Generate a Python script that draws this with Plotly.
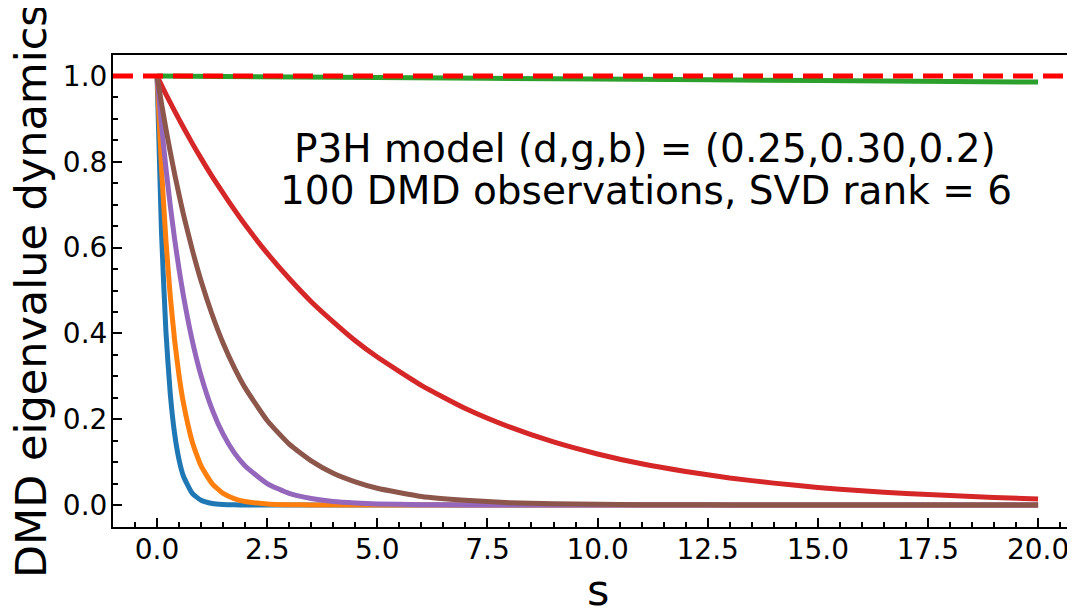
import plotly.graph_objects as go

# Sample times (s) and curve values
t = [0, 0.1, 0.2, 0.3, 0.4, 0.5, 0.6, 0.8, 1.0, 1.25, 1.5, 1.75, 2, 2.5, 3, 3.5, 4, 4.5,
     5, 6, 7, 8, 9, 10, 11, 12, 13, 14, 15, 16, 17, 18, 19, 20]

blue = [1, .638, .407, .259, .165, .105, .067, .027, .011, .0036, .0012, .0004, .0001, 0, 0, 0, 0, 0,
        0, 0, 0, 0, 0, 0, 0, 0, 0, 0, 0, 0, 0, 0, 0, 0]
orange = [1, .787, .619, .487, .383, .301, .237, .147, .091, .050, .027, .015, .008, .0025, .0007, .0002, .0001, 0,
          0, 0, 0, 0, 0, 0, 0, 0, 0, 0, 0, 0, 0, 0, 0, 0]
purple = [1, .887, .787, .698, .619, .549, .487, .383, .301, .223, .165, .122, .091, .050, .027, .015, .008, .0045,
          .0025, .0007, .0002, .0001, 0, 0, 0, 0, 0, 0, 0, 0, 0, 0, 0, 0]
brown = [1, .937, .878, .823, .771, .723, .677, .595, .522, .444, .377, .321, .273, .197, .142, .103, .074, .054,
         .039, .020, .011, .0055, .0029, .0015, .0008, .0004, .0002, .0001, 0, 0, 0, 0, 0, 0]
red = [1, .979, .958, .938, .918, .899, .880, .843, .808, .766, .727, .689, .653, .587, .528, .474, .427, .383,
       .345, .279, .225, .182, .147, .119, .096, .078, .063, .051, .041, .033, .027, .022, .0175, .014]

t_green = [0, 5, 10, 15, 20]
green = [1.0, 0.9965, 0.993, 0.9895, 0.986]

x_ticks = [0, 2.5, 5, 7.5, 10, 12.5, 15, 17.5, 20]
x_ticktext = ["0.0", "2.5", "5.0", "7.5", "10.0", "12.5", "15.0", "17.5", "20.0"]
y_ticks = [0, 0.2, 0.4, 0.6, 0.8, 1.0]
y_ticktext = ["0.0", "0.2", "0.4", "0.6", "0.8", "1.0"]

annot_lines = ["P3H model (d,g,b) = (0.25,0.30,0.2)", "100 DMD observations, SVD rank = 6"]
x_title = "s"
y_title = "DMD eigenvalue dynamics"
ref_level = 1.0

FONT = "DejaVu Sans"
TICKFONT = dict(family=FONT, size=28, color="black")
fig = go.Figure()

series = [
    (t, blue, "#1f77b4"),
    (t, orange, "#ff7f0e"),
    (t_green, green, "#2ca02c"),
    (t, red, "#d62728"),
    (t, purple, "#9467bd"),
    (t, brown, "#8c564b"),
]
for xs, ys, col in series:
    fig.add_trace(go.Scatter(x=xs, y=ys, mode="lines",
                             line=dict(color=col, width=5, shape="spline", smoothing=0.5),
                             showlegend=False, hoverinfo="skip"))

fig.add_shape(type="line", xref="paper", yref="y", x0=0, x1=1, y0=ref_level, y1=ref_level,
              line=dict(color="#ff0000", width=5, dash="20px,10px"), layer="above")

fig.add_annotation(x=11.08, y=0.832, text=annot_lines[0], showarrow=False,
                   xanchor="center", yanchor="middle", font=dict(family=FONT, size=39, color="black"))
fig.add_annotation(x=11.1, y=0.732, text=annot_lines[1], showarrow=False,
                   xanchor="center", yanchor="middle", font=dict(family=FONT, size=39, color="black"))

# axis titles placed as annotations
fig.add_annotation(xref="x", yref="paper", x=10, y=0, yshift=-63, text=x_title, showarrow=False,
                   xanchor="center", yanchor="middle", font=dict(family=FONT, size=43, color="black"))
fig.add_annotation(xref="paper", yref="paper", x=0, y=0.5, xshift=-82, text=y_title, showarrow=False,
                   textangle=-90, xanchor="center", yanchor="middle",
                   font=dict(family=FONT, size=43, color="black"))

fig.update_layout(
    width=1075, height=610,
    margin=dict(l=105, r=0, t=47, b=91),
    plot_bgcolor="white", paper_bgcolor="white",
    font=dict(family=FONT, color="black", size=28),
)
fig.update_xaxes(
    range=[-1.0, 21.02], showgrid=False, zeroline=False, automargin=False,
    showline=True, linecolor="black", linewidth=2, mirror=True,
    ticks="inside", ticklen=9, tickwidth=2, tickcolor="black",
    tickmode="array", tickvals=x_ticks, ticktext=x_ticktext, tickfont=TICKFONT,
    ticklabelstandoff=-4,
    minor=dict(dtick=0.5, tick0=0, ticks="inside", ticklen=5, tickwidth=1.5, tickcolor="black"),
)
fig.update_yaxes(
    range=[-0.0513, 1.049], showgrid=False, zeroline=False, automargin=False,
    showline=True, linecolor="black", linewidth=2, mirror=False,
    ticks="inside", ticklen=9, tickwidth=2, tickcolor="black",
    tickmode="array", tickvals=y_ticks, ticktext=y_ticktext, tickfont=TICKFONT,
    ticklabelstandoff=-2,
    minor=dict(dtick=0.05, tick0=0, ticks="inside", ticklen=5, tickwidth=1.5, tickcolor="black"),
)

fig.write_html("out.html")
